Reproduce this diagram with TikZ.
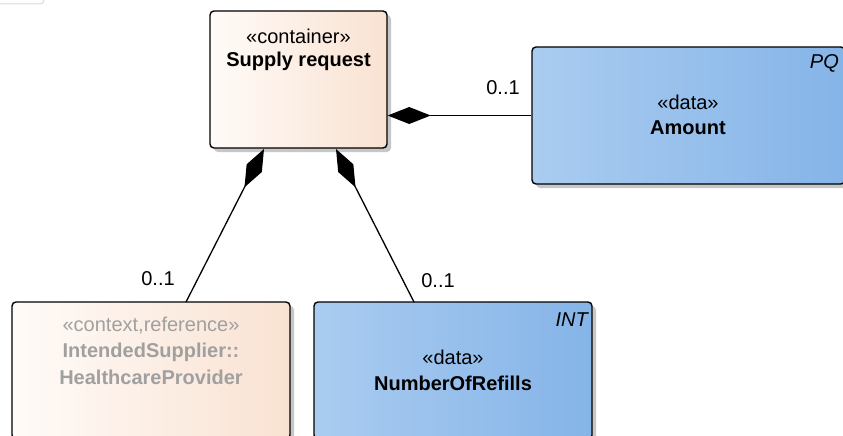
\documentclass[tikz,border=0pt]{standalone}
\usepackage{fontspec}
\setmainfont{Liberation Sans}
\usetikzlibrary{arrows.meta,shadows}
\definecolor{peachL}{RGB}{255,251,248}
\definecolor{peachR}{RGB}{249,226,210}
\definecolor{blueL}{RGB}{170,204,240}
\definecolor{blueR}{RGB}{133,180,232}
\definecolor{ghost}{RGB}{160,160,160}
\tikzset{
  umlbox/.style={draw=black, line width=1.4pt, rounded corners=4pt,
    drop shadow={shadow xshift=4pt, shadow yshift=-4pt, fill=black!22, opacity=1}},
  peach/.style={umlbox, left color=peachL, right color=peachR},
  bluebox/.style={umlbox, left color=blueL, right color=blueR},
  txt/.style={font=\fontsize{20}{24}\selectfont, inner sep=0pt},
  btxt/.style={txt, font=\fontsize{20}{24}\selectfont\bfseries},
  gtxt/.style={txt, text=ghost},
  gbtxt/.style={btxt, text=ghost},
  comp/.style={line width=1.3pt, {Diamond[length=43pt,width=17pt,fill=black]}-}
}
\begin{document}
\begin{tikzpicture}[x=1pt,y=-1pt]
\useasboundingbox (0,0) rectangle (843,436);
\draw[black!15, rounded corners=4pt, line width=1pt] (-10,-20) rectangle (44,4);
% boxes
\node[peach, minimum width=177pt, minimum height=137pt] (sup) at (298.5,79.5) {};
\node[bluebox, minimum width=313pt, minimum height=137pt] (amt) at (688.5,115.5) {};
\node[peach, minimum width=278pt, minimum height=137pt] (hcp) at (151,370.5) {};
\node[bluebox, minimum width=278pt, minimum height=137pt] (nor) at (453,370.5) {};
% texts
\node[txt] (supS) at (298.5,36) {«container»};
\node[btxt] (supN) at (298.5,61) {Supply request};
\node[txt] (amtS) at (688,102) {«data»};
\node[btxt] (amtN) at (688,128) {Amount};
\node[txt, font=\fontsize{20}{24}\selectfont\itshape, anchor=east] (amtT) at (839,63) {PQ};
\node[gtxt] (hcpS) at (151,326) {«context,reference»};
\node[gbtxt] (hcpN1) at (151,352) {IntendedSupplier::};
\node[gbtxt] (hcpN2) at (151,377) {HealthcareProvider};
\node[txt] (norS) at (453,357) {«data»};
\node[btxt] (norN) at (453,383) {NumberOfRefills};
\node[txt, font=\fontsize{20}{24}\selectfont\itshape, anchor=east] (norT) at (588,320) {INT};
% connectors
\coordinate (c1) at (264,149);
\coordinate (c2) at (336,149);
\coordinate (h1) at (186,302);
\coordinate (n1) at (414,302);
\draw[comp] (sup.east |- amt.west) -- (amt.west);
\draw[comp] (c1) -- (h1);
\draw[comp] (c2) -- (n1);
% multiplicities
\node[txt] (m1) at (503,88) {0..1};
\node[txt] (m2) at (158,279) {0..1};
\node[txt] (m3) at (438,281) {0..1};
\end{tikzpicture}
\end{document}
